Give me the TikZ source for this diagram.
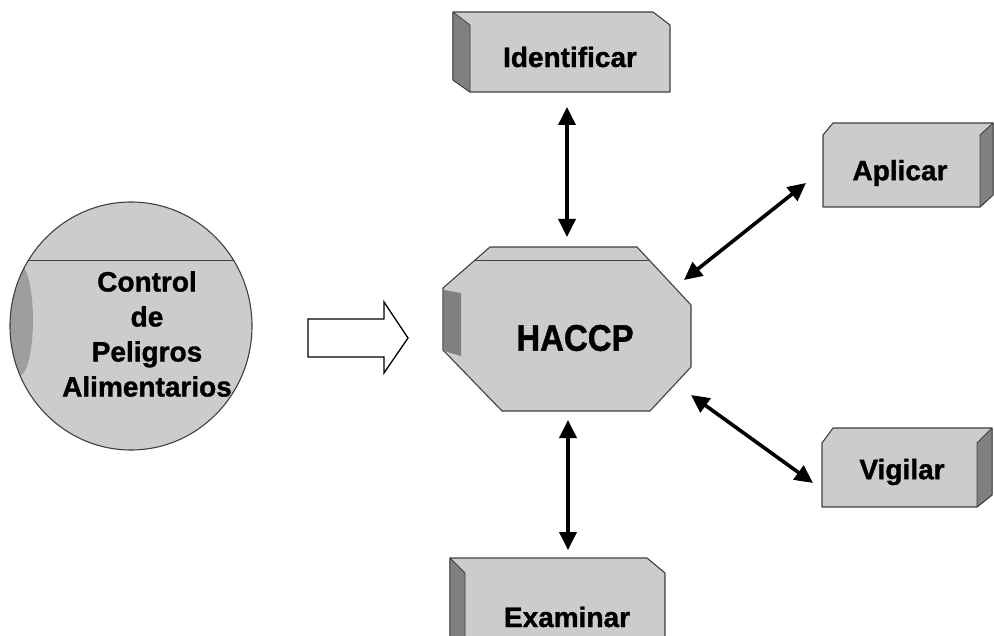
\documentclass[tikz,border=0pt]{standalone}
\usepackage{fontspec}
\setmainfont{Liberation Sans}
\newfontfamily\heavyfont{Liberation Sans Bold}[FakeBold=1.2]
\usetikzlibrary{arrows.meta,shapes.geometric}
\definecolor{facegray}{gray}{0.8}
\definecolor{sidegray}{gray}{0.5}
\definecolor{rimgray}{gray}{0.62}
\definecolor{edgegray}{gray}{0.25}

\begin{document}
\begin{tikzpicture}[x=1pt,y=-1pt,
  face/.style={fill=facegray,draw=edgegray,line width=1.1pt,line join=round},
  side/.style={fill=sidegray,draw=edgegray,line width=0.8pt,line join=round},
  edge/.style={draw=edgegray,line width=0.6pt},
  boxtext/.style={font=\heavyfont\fontsize{28}{34}\selectfont,text=black,inner sep=0pt},
  link/.style={line width=3.6pt,{Triangle[length=18pt,width=17pt]}-{Triangle[length=18pt,width=17pt]}},
  flow/.style={fill=white,draw=black,line width=1.3pt,line join=miter}]

\useasboundingbox (0,0) rectangle (994,636);

% ---- round block on the left, with its shaded side and rim line
% (path picture coordinates are relative to the node centre)
\node[ellipse,face,inner sep=0pt,minimum width=242pt,minimum height=248pt,
  path picture={
    \fill[rimgray] (-112,-6) ellipse [x radius=14, y radius=56];
    \draw[edge] (-140,-66) -- (140,-66);
  }] (ctrl) at (131,326) {};
\node[boxtext,align=center,font=\heavyfont\fontsize{28}{35}\selectfont]
  (ctrlText) at (147,334) {Control\\de\\Peligros\\Alimentarios};

% ---- broad arrow into the central block
\draw[flow] (308,319) -- (384,319) -- (384,302) -- (408,338)
  -- (384,373) -- (384,357) -- (308,357) -- cycle;

% ---- central octagonal block
\draw[face] (490,247) -- (637,247) -- (691,305) -- (691,367) -- (650,411)
  -- (502,411) -- (443,350) -- (443,288) -- cycle;
\fill[sidegray] (444,290) -- (461,293) -- (461,356) -- (444,351) -- cycle;
\draw[edge] (475,260) -- (649,260);
\node[inner sep=0pt,minimum width=248pt,minimum height=164pt] (haccp) at (567,329) {};
\node[font=\heavyfont\fontsize{33}{38}\selectfont,yscale=1.12,inner sep=0pt]
  (haccpText) at (575,338) {HACCP};

% ---- Identificar (seen from upper left)
\draw[face] (453,12) -- (653,12) -- (670,25) -- (670,92) -- (470,92) -- (453,80) -- cycle;
\draw[side] (453,12) -- (470,25) -- (470,92) -- (453,80) -- cycle;
\node[boxtext,minimum width=200pt,minimum height=67pt] (ident) at (570,57) {Identificar};

% ---- Examinar (seen from upper left, runs off the bottom)
\draw[face] (450,640) -- (450,558) -- (647,558) -- (665,573) -- (665,640);
\draw[side] (450,558) -- (465,573) -- (465,640) -- (450,640) -- cycle;
\node[boxtext,minimum width=200pt,minimum height=60pt] (exam) at (567,617) {Examinar};

% ---- Aplicar (seen from upper right)
\draw[face] (823,135) -- (833,123) -- (993,123) -- (993,195) -- (980,207) -- (823,207) -- cycle;
\draw[side] (980,135) -- (993,123) -- (993,195) -- (980,207) -- cycle;
\node[boxtext,minimum width=150pt,minimum height=60pt] (aplic) at (900,173) {Aplicar};

% ---- Vigilar (seen from upper right)
\draw[face] (822,443) -- (833,428) -- (992,428) -- (992,495) -- (977,507) -- (822,507) -- cycle;
\draw[side] (977,443) -- (992,428) -- (992,495) -- (977,507) -- cycle;
\node[boxtext,minimum width=150pt,minimum height=56pt] (vigil) at (902,472) {Vigilar};

% ---- end points of the two-way links
\coordinate (identFoot) at (567,107);
\coordinate (haccpTop)  at (567,237);
\coordinate (haccpFoot) at (568,420);
\coordinate (examTop)   at (568,550);
\coordinate (haccpNE)   at (684,280);
\coordinate (aplicW)    at (806,183);
\coordinate (haccpSE)   at (691,395);
\coordinate (vigilW)    at (813,483);

\draw[link] (identFoot) -- (haccpTop);
\draw[link] (haccpFoot) -- (examTop);
\draw[link] (haccpNE) -- (aplicW);
\draw[link] (haccpSE) -- (vigilW);
\end{tikzpicture}
\end{document}
